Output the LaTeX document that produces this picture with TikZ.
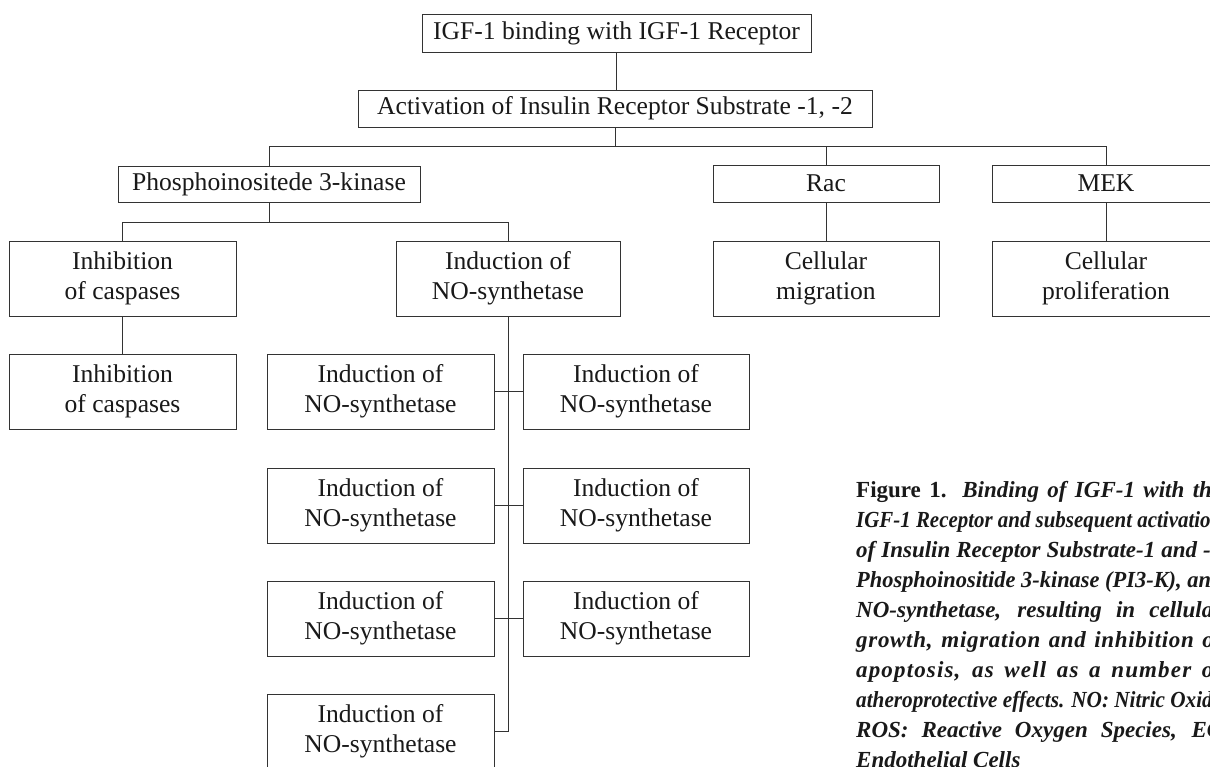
\documentclass[tikz,border=0pt]{standalone}
\usepackage{fontspec}
\setmainfont{Liberation Serif}
\usepackage{graphicx}
\newsavebox\capbox
\newlength\capw
\setlength\capw{366pt}
\newcommand\capline[1]{\sbox\capbox{#1}\ifdim\wd\capbox>\capw\resizebox{\capw}{\height}{#1}\else\makebox[\capw][s]{#1}\fi}
\newcommand\boxfont{\fontsize{25.6pt}{30pt}\selectfont}
\newcommand\capfont{\fontsize{23pt}{30pt}\selectfont\bfseries\itshape}
\begin{document}
\begin{tikzpicture}[x=1pt,y=-1pt,
  box/.style={draw=black!80, line width=1pt, inner sep=0pt, align=center, font=\boxfont, text=black!90},
  wbox/.style={box, minimum width=227pt, minimum height=75pt},
  conn/.style={draw=black!80, line width=1pt},
  capl/.style={anchor=base west, inner sep=0pt, font=\capfont, text=black!90}]
\useasboundingbox (0,0) rectangle (1210,766);
\clip (0,0) rectangle (1210,766);
\fill[white] (0,0) rectangle (1210,766);

\node[box, minimum width=389pt, minimum height=38pt] (igf) at (616.5,33) {IGF-1 binding with IGF-1 Receptor};
\node[box, minimum width=514pt, minimum height=37pt] (irs) at (615,108.5) {Activation of Insulin Receptor Substrate -1, -2};
\node[box, minimum width=302pt, minimum height=36pt] (pi3k) at (269,184) {Phosphoinositede 3-kinase};
\node[box, minimum width=226pt, minimum height=37pt] (rac) at (826,183.5) {Rac};
\node[box, minimum width=228pt, minimum height=37pt] (mek) at (1106,183.5) {MEK};

\node[wbox] (inh1) at (122.5,278.5) {Inhibition\\of caspases};
\node[wbox, minimum width=224pt] (ind) at (508,278.5) {Induction of\\NO-synthetase};
\node[wbox, minimum width=226pt] (mig) at (826,278.5) {Cellular\\migration};
\node[wbox, minimum width=228pt] (pro) at (1106,278.5) {Cellular\\proliferation};
\node[wbox] (inh2) at (122.5,391.5) {Inhibition\\of caspases};

\node[wbox] (l1) at (380.5,391.5) {Induction of\\NO-synthetase};
\node[wbox, minimum width=226pt] (r1) at (636,391.5) {Induction of\\NO-synthetase};
\node[wbox] (l2) at (380.5,505.5) {Induction of\\NO-synthetase};
\node[wbox, minimum width=226pt] (r2) at (636,505.5) {Induction of\\NO-synthetase};
\node[wbox] (l3) at (380.5,618.5) {Induction of\\NO-synthetase};
\node[wbox, minimum width=226pt] (r3) at (636,618.5) {Induction of\\NO-synthetase};
\node[wbox] (l4) at (380.5,731.5) {Induction of\\NO-synthetase};

\coordinate (b1) at (616,146);
\coordinate (b2) at (269,222);
\draw[conn] (igf.south) -- (igf.south |- irs.north);
\draw[conn] (irs.south) -- (irs.south |- b1);
\draw[conn] (pi3k.north) -- (pi3k.north |- b1) -- (mek.north |- b1) -- (mek.north);
\draw[conn] (rac.north) -- (rac.north |- b1);
\draw[conn] (pi3k.south) -- (pi3k.south |- b2);
\draw[conn] (inh1.north) -- (inh1.north |- b2) -- (ind.north |- b2) -- (ind.north);
\draw[conn] (rac.south) -- (mig.north);
\draw[conn] (mek.south) -- (pro.north);
\draw[conn] (inh1.south) -- (inh2.north);
\draw[conn] (ind.south) -- (ind.south |- l4.east) -- (l4.east);
\draw[conn] (l1.east) -- (r1.west);
\draw[conn] (l2.east) -- (r2.west);
\draw[conn] (l3.east) -- (r3.west);

\node[capl] (c1) at (856,497) {\capline{{\upshape Figure 1.} Binding of IGF-1 with the}};
\node[capl] (c2) at (856,527) {\capline{IGF-1 Receptor and subsequent activation}};
\node[capl] (c3) at (856,557) {\capline{of Insulin Receptor Substrate-1 and -2}};
\node[capl] (c4) at (856,587) {\capline{Phosphoinositide 3-kinase (PI3-K), and}};
\node[capl] (c5) at (856,617) {\capline{NO-synthetase, resulting in cellular}};
\node[capl] (c6) at (856,647) {\capline{\addfontfeature{LetterSpace=3}growth, migration and inhibition of}};
\node[capl] (c7) at (856,677) {\capline{\addfontfeature{LetterSpace=5}apoptosis, as well as a number of}};
\node[capl] (c8) at (856,707) {\capline{atheroprotective effects. NO: Nitric Oxide}};
\node[capl] (c9) at (856,737) {\capline{ROS: Reactive Oxygen Species, EC}};
\node[capl] (c10) at (856,767) {Endothelial Cells};
\end{tikzpicture}
\end{document}
